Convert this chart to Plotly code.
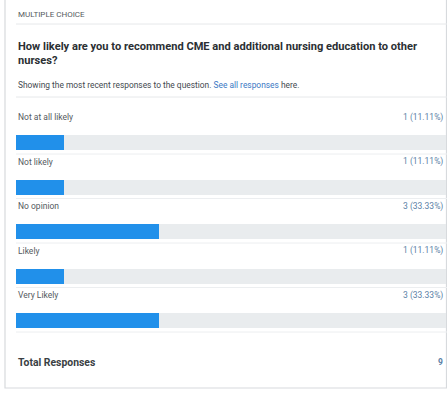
import plotly.graph_objects as go

categories = ["Not at all likely", "Not likely", "No opinion", "Likely", "Very Likely"]
counts = [1, 1, 3, 1, 3]
percents = [11.11, 11.11, 33.33, 11.11, 33.33]
total_responses = 9
question = "How likely are you to recommend CME and additional nursing education to other<br>nurses?"

W, H = 447, 396
ROW = 44.5
FIRST = 142.5
y0 = -FIRST / ROW
y1 = y0 + H / ROW

FONT = "Roboto, 'Noto Sans', sans-serif"
idx = list(range(len(categories)))

fig = go.Figure()
fig.add_trace(go.Bar(
    y=idx, x=[100] * len(categories), orientation="h",
    marker=dict(color="#e9ecee", line=dict(width=0)),
    width=15 / ROW, hoverinfo="skip", showlegend=False,
))
fig.add_trace(go.Bar(
    y=idx, x=percents, orientation="h",
    marker=dict(color="#2190ea", line=dict(width=0)),
    width=15 / ROW, showlegend=False,
    customdata=categories, hovertemplate="%{customdata}: %{x}%<extra></extra>",
))

def px(x):
    return x / W

def py(y):
    return 1 - y / H

ann = []
for i, (c, n, p) in enumerate(zip(categories, counts, percents)):
    ann.append(dict(x=px(16), y=i, xref="paper", yref="y", yshift=25.5,
                    text=c, showarrow=False, xanchor="left", yanchor="middle",
                    font=dict(family=FONT, size=8.5, color="#555a60")))
    ann.append(dict(x=px(444.5), y=i, xref="paper", yref="y", yshift=25.5,
                    text=f"{n} ({p:.2f}%)", showarrow=False, xanchor="right", yanchor="middle",
                    font=dict(family=FONT, size=8.5, color="#5b7fa6")))

ann += [
    dict(x=px(16), y=py(15), xref="paper", yref="paper", text="MULTIPLE CHOICE",
         showarrow=False, xanchor="left", yanchor="middle",
         font=dict(family=FONT, size=8, color="#555a60")),
    dict(x=px(16), y=py(53.5), xref="paper", yref="paper", text="<b>" + question + "</b>",
         showarrow=False, xanchor="left", yanchor="middle", align="left",
         font=dict(family=FONT, size=11.1, color="#2b2f33")),
    dict(x=px(16), y=py(85), xref="paper", yref="paper",
         text="Showing the most recent responses to the question. <span style='color:#3b78c4'>See all responses</span> here.",
         showarrow=False, xanchor="left", yanchor="middle",
         font=dict(family=FONT, size=8.4, color="#444a50")),
    dict(x=px(16), y=py(362), xref="paper", yref="paper", text="<b>Total Responses</b>",
         showarrow=False, xanchor="left", yanchor="middle",
         font=dict(family=FONT, size=10.4, color="#3a3f44")),
    dict(x=px(444.5), y=py(362), xref="paper", yref="paper", text=f"<b>{total_responses}</b>",
         showarrow=False, xanchor="right", yanchor="middle",
         font=dict(family=FONT, size=8.5, color="#5b7fa6")),
]

shapes = [
    dict(type="rect", xref="paper", yref="paper", x0=px(5), x1=px(446.5), y0=py(388), y1=py(-5),
         line=dict(color="#d7dadd", width=1.2), fillcolor="rgba(0,0,0,0)", layer="below"),
    dict(type="line", xref="paper", yref="paper", x0=px(16), x1=px(447), y0=py(24), y1=py(24),
         line=dict(color="#e6e8ea", width=1)),
    dict(type="line", xref="paper", yref="paper", x0=px(16), x1=px(447), y0=py(97), y1=py(97),
         line=dict(color="#e6e8ea", width=1)),
]
for i in idx:
    shapes.append(dict(type="line", xref="paper", yref="y", x0=px(16), x1=px(447),
                       y0=i + 11.5 / ROW, y1=i + 11.5 / ROW,
                       line=dict(color="#eceef0", width=1)))

fig.update_layout(
    width=W, height=H, margin=dict(l=0, r=0, t=0, b=0),
    paper_bgcolor="white", plot_bgcolor="white",
    barmode="overlay", bargap=0,
    xaxis=dict(range=[0, 100], domain=[px(16), px(446)], visible=False, fixedrange=True),
    yaxis=dict(range=[y1, y0], visible=False, fixedrange=True),
    annotations=ann, shapes=shapes,
)

fig.write_html(
    "out.html",
    config={"displayModeBar": False},
    post_script="document.body.style.margin='0';document.body.style.overflow='hidden';",
)
